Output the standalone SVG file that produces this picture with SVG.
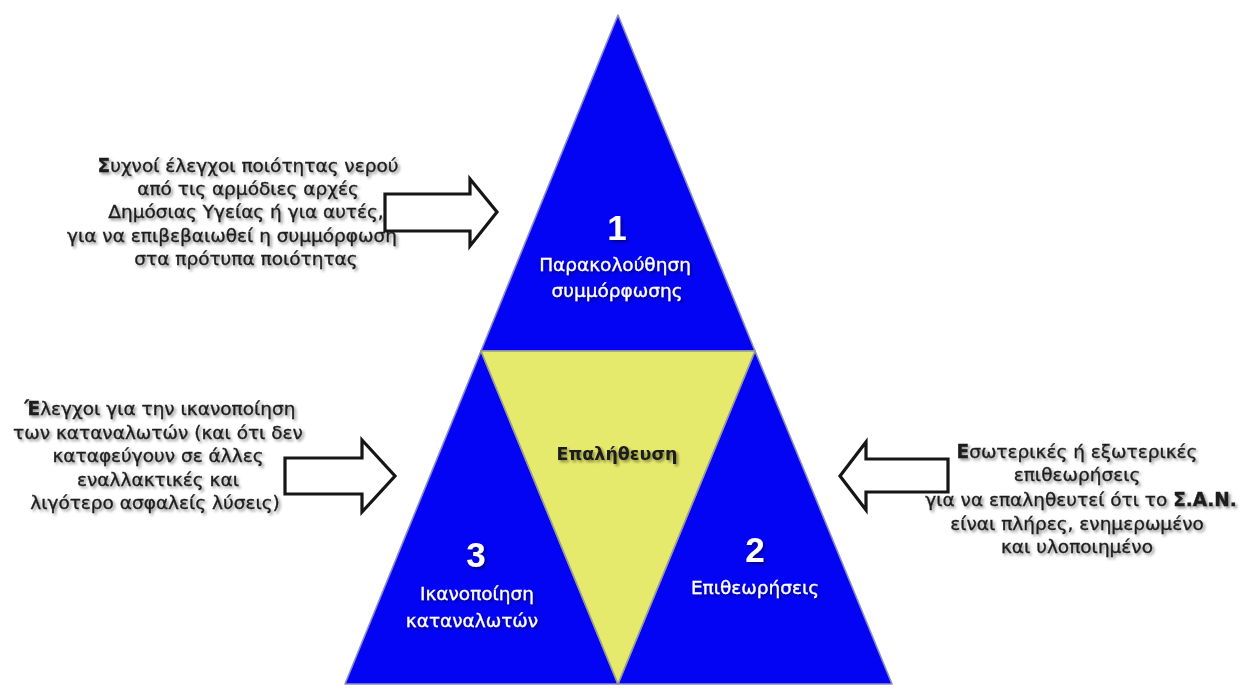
<svg xmlns="http://www.w3.org/2000/svg" width="1247" height="689" viewBox="0 0 1247 689">
  <defs>
    <filter id="shadow" x="-10%" y="-30%" width="120%" height="160%">
      <feGaussianBlur in="SourceAlpha" stdDeviation="1.6"/>
      <feOffset dx="2" dy="2" result="b"/>
      <feFlood flood-color="#000" flood-opacity="0.45"/>
      <feComposite in2="b" operator="in"/>
      <feMerge><feMergeNode/><feMergeNode in="SourceGraphic"/></feMerge>
    </filter>
    <filter id="soft" x="-10%" y="-10%" width="120%" height="120%">
      <feGaussianBlur stdDeviation="0.6"/>
    </filter>
  </defs>
  <style>
    .blue { fill: #0404f4; stroke: #8c8cc4; stroke-width: 1.6; stroke-linejoin: round; }
    .yellow { fill: #e6ea6c; stroke: #9a9a8a; stroke-width: 1.6; stroke-linejoin: round; }
    .side { font-family: "DejaVu Sans", "Liberation Sans", sans-serif; font-size: 18.5px; fill: #1e1e1e; stroke: #1e1e1e; stroke-width: 0.35; text-anchor: middle; }
    .num { font-family: "Liberation Sans", Arial, sans-serif; font-size: 35px; font-weight: bold; fill: #ffffff; text-anchor: middle; }
    .lbl { font-family: "DejaVu Sans", "Liberation Sans", sans-serif; font-size: 18.5px; fill: #ffffff; stroke: #ffffff; stroke-width: 0.3; text-anchor: middle; }
    .dark { font-family: "DejaVu Sans", "Liberation Sans", sans-serif; font-size: 17.5px; font-weight: bold; fill: #1a1a1a; text-anchor: middle; }
    .arrow { fill: #ffffff; stroke: #141414; stroke-width: 3.2; stroke-linejoin: miter; }
    .b { font-weight: bold; }
  </style>

  <rect width="1247" height="689" fill="#ffffff"/>

  <!-- top: monitoring -->
  <g id="tri-1">
    <polygon class="blue" points="618,15 755,351 481,351"/>
    <g filter="url(#shadow)">
      <text class="num" x="617" y="240">1</text>
      <text class="lbl" x="615" y="271">Παρακολούθηση</text>
      <text class="lbl" x="617" y="297">συμμόρφωσης</text>
    </g>
  </g>

  <!-- bottom left: consumer satisfaction -->
  <g id="tri-3">
    <polygon class="blue" points="481,351 618,684 345,684"/>
    <g filter="url(#shadow)">
      <text class="num" x="476" y="567">3</text>
      <text class="lbl" x="477" y="600">Ικανοποίηση</text>
      <text class="lbl" x="472" y="627">καταναλωτών</text>
    </g>
  </g>

  <!-- bottom right: inspections -->
  <g id="tri-2">
    <polygon class="blue" points="755,351 892,684 618,684"/>
    <g filter="url(#shadow)">
      <text class="num" x="755" y="562">2</text>
      <text class="lbl" x="755" y="594">Επιθεωρήσεις</text>
    </g>
  </g>

  <!-- centre: verification -->
  <g id="verify">
    <polygon class="yellow" points="481,351 755,351 618,684"/>
    <text class="dark" x="617" y="460" filter="url(#shadow)">Επαλήθευση</text>
  </g>

  <!-- descriptions -->
  <g id="note-monitoring" filter="url(#shadow)">
    <text class="side" x="248" y="172"><tspan class="b">Σ</tspan>υχνοί έλεγχοι ποιότητας νερού</text>
    <text class="side" x="248" y="195">από τις αρμόδιες αρχές</text>
    <text class="side" x="246" y="218">Δημόσιας Υγείας ή για αυτές,</text>
    <text class="side" x="232" y="242">για να επιβεβαιωθεί η συμμόρφωση</text>
    <text class="side" x="246" y="265">στα πρότυπα ποιότητας</text>
  </g>

  <g id="note-consumers" filter="url(#shadow)">
    <text class="side" x="160" y="415"><tspan class="b">Έ</tspan>λεγχοι για την ικανοποίηση</text>
    <text class="side" x="158" y="439">των καταναλωτών (και ότι δεν</text>
    <text class="side" x="158" y="462">καταφεύγουν σε άλλες</text>
    <text class="side" x="158" y="486">εναλλακτικές και</text>
    <text class="side" x="155" y="509">λιγότερο ασφαλείς λύσεις)</text>
  </g>

  <g id="note-inspections" filter="url(#shadow)">
    <text class="side" x="1077" y="458"><tspan class="b">Ε</tspan>σωτερικές ή εξωτερικές</text>
    <text class="side" x="1077" y="481">επιθεωρήσεις</text>
    <text class="side" x="1081" y="506">για να επαληθευτεί ότι το <tspan class="b">Σ.Α.Ν.</tspan></text>
    <text class="side" x="1077" y="530">είναι πλήρες, ενημερωμένο</text>
    <text class="side" x="1077" y="553">και υλοποιημένο</text>
  </g>

  <!-- block arrows pointing into the pyramid -->
  <g id="connectors" filter="url(#soft)">
    <polygon class="arrow" points="385,194 470,194 470,179 497,212 470,246 470,231 385,231"/>
    <polygon class="arrow" points="285,458 362,458 362,440 395,476 362,512 362,494 285,494"/>
    <polygon class="arrow" points="948,459 866,459 866,442 840,476 866,510 866,492 948,492"/>
  </g>
</svg>
